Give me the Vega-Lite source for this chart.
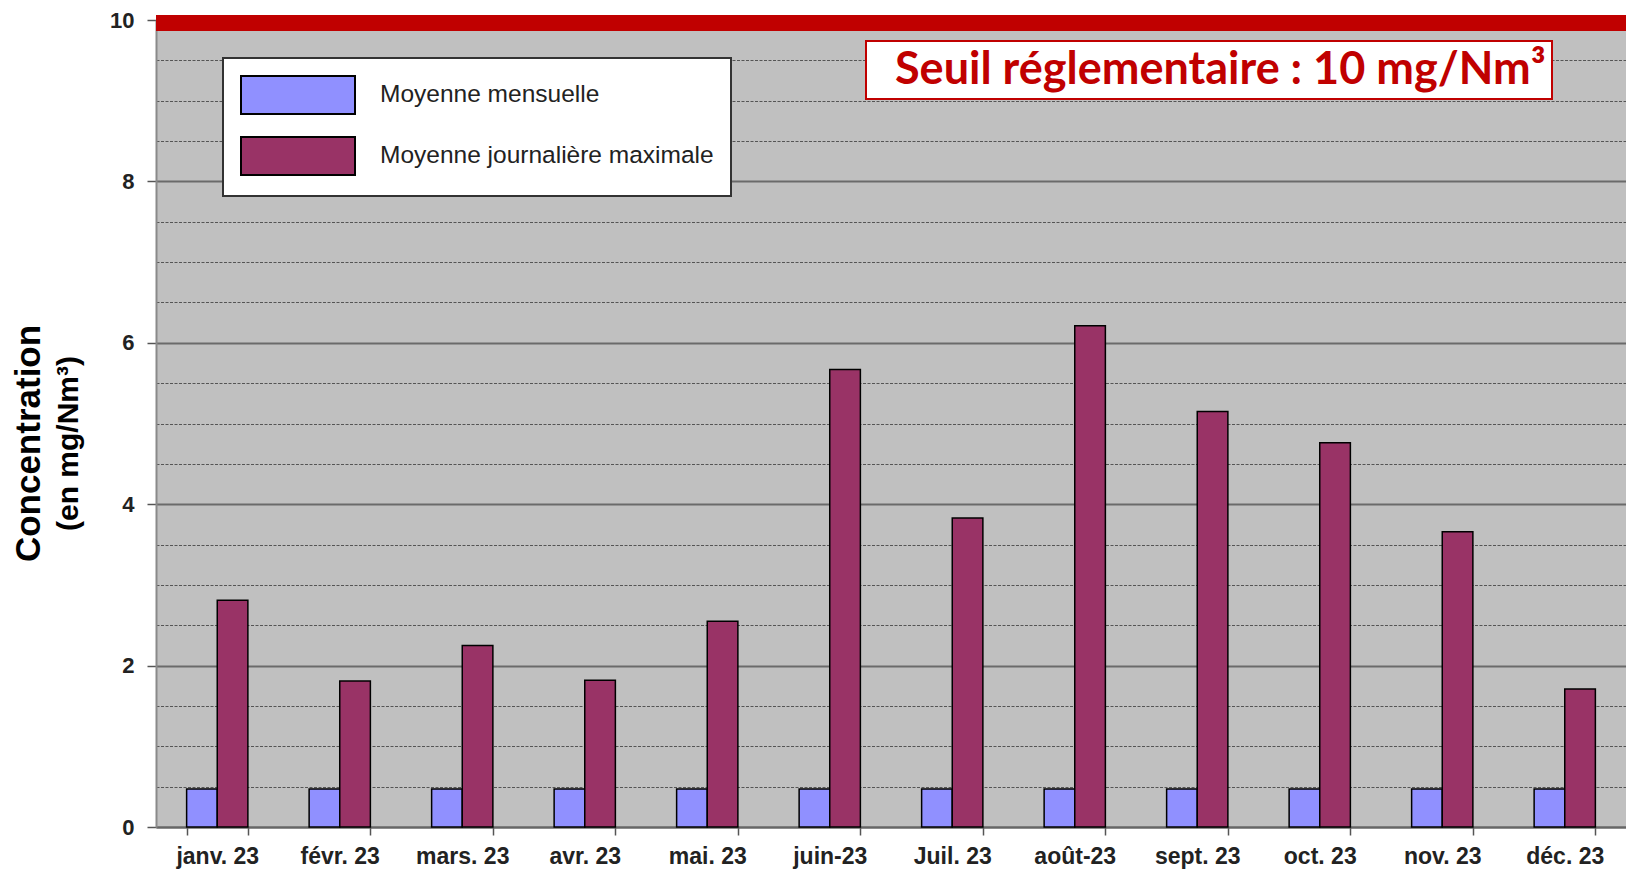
{
  "$schema": "https://vega.github.io/schema/vega-lite/v6.json",
  "width": 1470,
  "height": 807,
  "autosize": {"type": "none"},
  "padding": {"left": 156, "top": 20, "right": 0, "bottom": 44},
  "background": "white",
  "config": {
    "view": {"fill": "#C0C0C0", "stroke": null},
    "font": "Liberation Sans"
  },
  "data": {
    "values": [
      {"mois": "janv. 23", "serie": "Moyenne mensuelle", "valeur": 0.47},
      {"mois": "janv. 23", "serie": "Moyenne journalière maximale", "valeur": 2.81},
      {"mois": "févr. 23", "serie": "Moyenne mensuelle", "valeur": 0.47},
      {"mois": "févr. 23", "serie": "Moyenne journalière maximale", "valeur": 1.81},
      {"mois": "mars. 23", "serie": "Moyenne mensuelle", "valeur": 0.47},
      {"mois": "mars. 23", "serie": "Moyenne journalière maximale", "valeur": 2.25},
      {"mois": "avr. 23", "serie": "Moyenne mensuelle", "valeur": 0.47},
      {"mois": "avr. 23", "serie": "Moyenne journalière maximale", "valeur": 1.82},
      {"mois": "mai. 23", "serie": "Moyenne mensuelle", "valeur": 0.47},
      {"mois": "mai. 23", "serie": "Moyenne journalière maximale", "valeur": 2.55},
      {"mois": "juin-23", "serie": "Moyenne mensuelle", "valeur": 0.47},
      {"mois": "juin-23", "serie": "Moyenne journalière maximale", "valeur": 5.67},
      {"mois": "Juil. 23", "serie": "Moyenne mensuelle", "valeur": 0.47},
      {"mois": "Juil. 23", "serie": "Moyenne journalière maximale", "valeur": 3.83},
      {"mois": "août-23", "serie": "Moyenne mensuelle", "valeur": 0.47},
      {"mois": "août-23", "serie": "Moyenne journalière maximale", "valeur": 6.21},
      {"mois": "sept. 23", "serie": "Moyenne mensuelle", "valeur": 0.47},
      {"mois": "sept. 23", "serie": "Moyenne journalière maximale", "valeur": 5.15},
      {"mois": "oct. 23", "serie": "Moyenne mensuelle", "valeur": 0.47},
      {"mois": "oct. 23", "serie": "Moyenne journalière maximale", "valeur": 4.76},
      {"mois": "nov. 23", "serie": "Moyenne mensuelle", "valeur": 0.47},
      {"mois": "nov. 23", "serie": "Moyenne journalière maximale", "valeur": 3.66},
      {"mois": "déc. 23", "serie": "Moyenne mensuelle", "valeur": 0.47},
      {"mois": "déc. 23", "serie": "Moyenne journalière maximale", "valeur": 1.71}
    ]
  },
  "resolve": {"axis": {"y": "independent"}},
  "layer": [
    {
      "mark": {"type": "bar", "stroke": "black", "strokeWidth": 1.5},
      "encoding": {
        "x": {
          "field": "mois",
          "type": "nominal",
          "sort": null,
          "scale": {"paddingInner": 0.5, "paddingOuter": 0.25},
          "axis": {
            "title": null,
            "labelAngle": 0,
            "labelFont": "Liberation Sans",
            "labelFontWeight": "bold",
            "labelFontSize": 23,
            "labelColor": "#222222",
            "labelPadding": 10,
            "tickBand": "extent",
            "tickSize": 8,
            "tickColor": "#555555",
            "tickWidth": 1.5,
            "domainColor": "#666666",
            "domainWidth": 2,
            "grid": false
          }
        },
        "xOffset": {
          "field": "serie",
          "type": "nominal",
          "sort": ["Moyenne mensuelle", "Moyenne journalière maximale"],
          "scale": {"paddingInner": 0, "paddingOuter": 0}
        },
        "y": {
          "field": "valeur",
          "type": "quantitative",
          "scale": {"domain": [0, 10], "nice": false, "zero": true},
          "axis": {
            "orient": "left",
            "title": "(en mg/Nm³)",
            "titleFont": "Liberation Sans",
            "titleFontWeight": "bold",
            "titleFontSize": 30,
            "titleColor": "#000000",
            "titleAngle": -90,
            "titleAlign": "center",
            "titleBaseline": "alphabetic",
            "titleX": -79,
            "titleY": 423,
            "values": [0, 0.5, 1, 1.5, 2, 2.5, 3, 3.5, 4, 4.5, 5, 5.5, 6, 6.5, 7, 7.5, 8, 8.5, 9, 9.5, 10],
            "labelExpr": "datum.value % 2 === 0 ? format(datum.value, 'd') : ''",
            "labelFont": "Liberation Sans",
            "labelFontWeight": "bold",
            "labelFontSize": 22,
            "labelColor": "#222222",
            "labelPadding": 13,
            "tickSize": 9,
            "tickColor": "#555555",
            "tickWidth": 1.5,
            "tickOpacity": {"condition": {"test": "datum.value % 2 === 0", "value": 1}, "value": 0},
            "domainColor": "#8a8a8a",
            "domainWidth": 2,
            "grid": true,
            "gridColor": {"condition": {"test": "datum.value % 2 === 0", "value": "#6a6a6a"}, "value": "#555555"},
            "gridWidth": {"condition": {"test": "datum.value % 2 === 0", "value": 1.8}, "value": 1.2},
            "gridDash": {"condition": {"test": "datum.value % 2 === 0", "value": []}, "value": [3, 1.5]},
            "gridOpacity": 1
          }
        },
        "fill": {
          "field": "serie",
          "type": "nominal",
          "sort": ["Moyenne mensuelle", "Moyenne journalière maximale"],
          "scale": {
            "domain": ["Moyenne mensuelle", "Moyenne journalière maximale"],
            "range": ["#9090FF", "#993366"]
          },
          "legend": {
            "title": null,
            "orient": "none",
            "legendX": 67,
            "legendY": 38,
            "direction": "vertical",
            "padding": 17,
            "fillColor": "white",
            "strokeColor": "#333333",
            "symbolType": "M-1,-1H5V1H-1Z",
            "symbolSize": 1444,
            "symbolStrokeColor": "black",
            "symbolStrokeWidth": 2,
            "symbolOpacity": 1,
            "labelFont": "Liberation Sans",
            "labelFontSize": 24.5,
            "labelColor": "#222222",
            "labelOffset": 100,
            "labelLimit": 0,
            "rowPadding": 15,
            "encode": {"legend": {"update": {"strokeWidth": {"value": 2}}}}
          }
        }
      }
    },
    {
      "mark": {"type": "rule", "strokeWidth": 16, "yOffset": 3},
      "encoding": {
        "y": {
          "datum": 10,
          "type": "quantitative",
          "axis": {
            "orient": "left",
            "title": "Concentration",
            "titleFont": "Liberation Sans",
            "titleFontWeight": "bold",
            "titleFontSize": 35,
            "titleColor": "#000000",
            "titleAngle": -90,
            "titleAlign": "center",
            "titleBaseline": "alphabetic",
            "titleX": -117,
            "titleY": 423,
            "labels": false,
            "ticks": false,
            "domain": false,
            "grid": false
          }
        },
        "stroke": {
          "datum": "Seuil réglementaire : 10 mg/Nm³",
          "type": "nominal",
          "scale": {"range": ["#C00000"]},
          "legend": {
            "title": null,
            "orient": "none",
            "legendX": 710,
            "legendY": 21,
            "padding": 6,
            "fillColor": "white",
            "strokeColor": "#C00000",
            "symbolType": "circle",
            "symbolSize": 100,
            "symbolOpacity": 0,
            "symbolStrokeWidth": 0,
            "labelOffset": -22,
            "labelFont": "Lato",
            "labelFontWeight": "bold",
            "labelFontSize": 45,
            "labelColor": "#C00000",
            "labelLimit": 0,
            "encode": {"legend": {"update": {"strokeWidth": {"value": 2}}}}
          }
        }
      }
    }
  ]
}
